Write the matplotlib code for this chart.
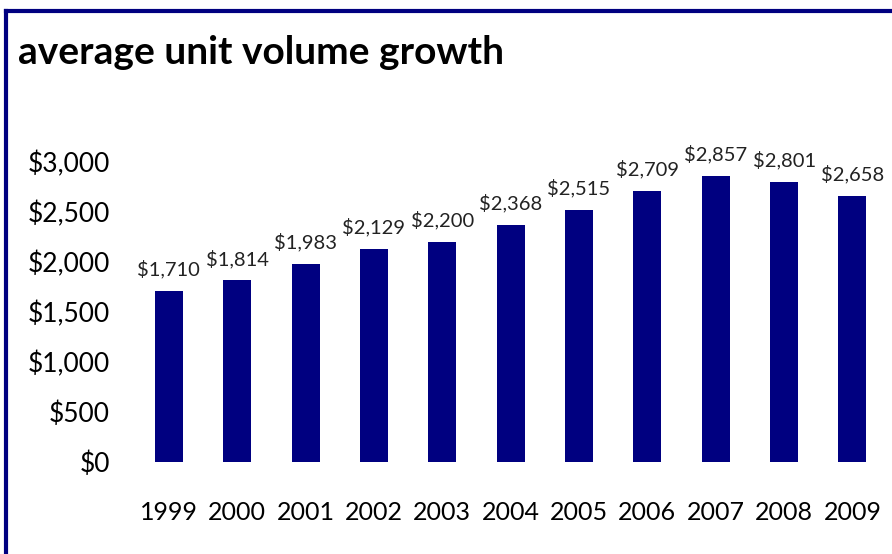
import matplotlib.pyplot as plt
from matplotlib.lines import Line2D
from matplotlib.ticker import FuncFormatter

years = ['1999', '2000', '2001', '2002', '2003', '2004', '2005', '2006', '2007', '2008', '2009']
volumes = [1710, 1814, 1983, 2129, 2200, 2368, 2515, 2709, 2857, 2801, 2658]

navy = '#000080'
plt.rcParams['font.family'] = ['Lato', 'DejaVu Sans']

fig = plt.figure(figsize=(8.92, 5.54), dpi=100)
ax = fig.add_axes([0.151, 0.166, 0.843, 0.542])

x = range(len(years))
bars = ax.bar(x, volumes, width=0.41, color=navy)
for xi, v in zip(x, volumes):
    ax.annotate('${:,}'.format(v), (xi, v), xytext=(0, 9), textcoords='offset points',
                ha='center', va='bottom', fontsize=14.5, color='#222222')

ax.set_xlim(-0.5, len(years) - 0.5)
ax.set_ylim(0, 3000)
ax.set_yticks(range(0, 3001, 500))
ax.yaxis.set_major_formatter(FuncFormatter(lambda v, p: '${:,.0f}'.format(v)))
ax.set_xticks(list(x))
ax.set_xticklabels(years)
ax.tick_params(axis='y', length=0, pad=18, labelsize=19)
ax.tick_params(axis='x', length=0, pad=28, labelsize=18)
for s in ax.spines.values():
    s.set_visible(False)

fig.text(0.02, 0.905, 'average unit volume growth', fontsize=28, fontweight='bold',
         ha='left', va='center')

# border (only top and left edges show in the frame)
fig.add_artist(Line2D([0.007, 1.0], [0.98, 0.98], color=navy, lw=3, transform=fig.transFigure))
fig.add_artist(Line2D([0.007, 0.007], [0.0, 0.98], color=navy, lw=3, transform=fig.transFigure))

fig.savefig('out.png', dpi=100)
